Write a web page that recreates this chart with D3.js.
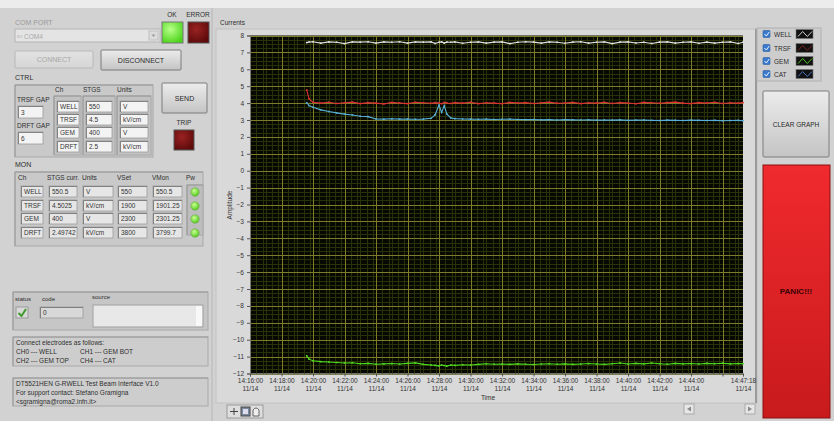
<!DOCTYPE html>
<html><head><meta charset="utf-8">
<script src="https://cdn.jsdelivr.net/npm/d3@7"></script>
<style>
html,body{margin:0;padding:0;background:#d2d2d2;overflow:hidden}
svg{display:block;font-family:"Liberation Sans",Arial,sans-serif}
</style></head><body><svg id="c" width="834" height="421"></svg>
<script>
// ---------------- data ----------------
const times = ["14:19:36","14:19:45","14:20:00","14:20:30","14:21:00","14:21:30","14:22:00","14:22:30","14:23:00","14:23:30",
 "14:24:00","14:24:30","14:25:00","14:25:30","14:26:00","14:26:30","14:27:00","14:27:30","14:27:45","14:28:00",
 "14:28:10","14:28:20","14:28:30","14:28:45","14:29:00","14:29:30","14:30:00","14:30:30","14:31:00","14:31:30",
 "14:32:00","14:32:30","14:33:00","14:33:30","14:34:00","14:34:30","14:35:00","14:35:30","14:36:00","14:36:30",
 "14:37:00","14:37:30","14:38:00","14:38:30","14:39:00","14:39:30","14:40:00","14:40:30","14:41:00","14:41:30",
 "14:42:00","14:42:30","14:43:00","14:43:30","14:44:00","14:44:30","14:45:00","14:45:30","14:46:00","14:46:30",
 "14:47:00","14:47:18"];
const wellValues = [7.58,7.62,7.63,7.55,7.62,7.60,7.52,7.62,7.61,7.63,
 7.55,7.62,7.60,7.63,7.55,7.62,7.61,7.62,7.53,7.60,
 7.62,7.55,7.61,7.60,7.62,7.54,7.60,7.62,7.55,7.61,
 7.62,7.52,7.60,7.63,7.61,7.55,7.62,7.60,7.54,7.61,
 7.63,7.55,7.60,7.62,7.52,7.61,7.62,7.56,7.60,7.53,
 7.61,7.62,7.55,7.60,7.62,7.54,7.61,7.55,7.60,7.62,
 7.53,7.60];
const trsfValues = [4.78,4.25,4.05,4.00,4.05,3.98,4.02,4.06,3.97,4.03,
 4.00,3.95,4.04,4.01,3.97,4.05,4.02,3.99,4.03,4.00,
 3.96,4.04,4.01,3.98,4.03,4.00,4.05,3.97,4.02,4.00,
 3.96,4.04,4.01,4.03,3.98,4.02,4.06,3.99,4.01,4.04,
 3.97,4.02,4.00,4.05,3.98,4.03,4.01,3.96,4.04,4.02,
 3.99,4.03,4.06,4.00,3.97,4.03,4.01,4.05,3.98,4.02,
 4.00,4.03];
const gemValues = [-10.95,-11.15,-11.25,-11.30,-11.32,-11.35,-11.38,-11.36,-11.42,-11.40,
 -11.45,-11.43,-11.41,-11.44,-11.40,-11.37,-11.46,-11.50,-11.52,-11.55,
 -11.50,-11.53,-11.56,-11.50,-11.52,-11.48,-11.50,-11.46,-11.42,-11.45,
 -11.44,-11.46,-11.43,-11.45,-11.47,-11.44,-11.42,-11.45,-11.43,-11.46,
 -11.44,-11.41,-11.44,-11.46,-11.42,-11.38,-11.44,-11.40,-11.43,-11.38,
 -11.42,-11.45,-11.40,-11.43,-11.41,-11.44,-11.40,-11.42,-11.39,-11.43,
 -11.41,-11.42];
const catValues = [4.02,3.85,3.75,3.60,3.50,3.42,3.35,3.30,3.22,3.20,
 3.06,3.05,3.07,3.05,3.06,3.04,3.05,3.10,3.30,3.88,
 3.45,3.85,3.35,3.12,3.08,3.06,3.05,3.04,3.05,3.03,
 3.04,3.05,3.03,3.02,3.03,3.01,3.02,3.00,3.02,3.01,
 3.00,3.01,2.99,3.00,2.99,3.01,2.98,2.99,3.00,2.98,
 2.97,2.99,2.98,2.97,2.99,2.98,2.97,2.98,2.96,2.97,
 2.98,2.96];
const seriesNames = ["WELL","TRSF","GEM","CAT"];
const seriesColors = ["#e2e2e2","#dc3030","#4fdc1e","#58b0d8"];
const yTicks = [8,7,6,5,4,3,2,1,0,-1,-2,-3,-4,-5,-6,-7,-8,-9,-10,-11,-12];
const xTickTimes = ["14:16:00","14:18:00","14:20:00","14:22:00","14:24:00","14:26:00","14:28:00","14:30:00",
 "14:32:00","14:34:00","14:36:00","14:38:00","14:40:00","14:42:00","14:44:00","14:46:00","14:47:18"];
const xTickLabels = ["14:16:00","14:18:00","14:20:00","14:22:00","14:24:00","14:26:00","14:28:00","14:30:00",
 "14:32:00","14:34:00","14:36:00","14:38:00","14:40:00","14:42:00","14:44:00","","14:47:18"];
const dateLabel = "11/14";
const ctrlCh = ["WELL","TRSF","GEM","DRFT"];
const ctrlStgs = ["550","4.5","400","2.5"];
const ctrlUnits = ["V","kV/cm","V","kV/cm"];
const monStgsCurr = ["550.5","4.5025","400","2.49742"];
const monVSet = ["550","1900","2300","3800"];
const monVMon = ["550.5","1901.25","2301.25","3799.7"];

// ---------------- drawing ----------------
const svg = d3.select("#c");
const defs = svg.append("defs");
function grad(id, c1, c2){
  const g = defs.append("linearGradient").attr("id",id).attr("x1",0).attr("y1",0).attr("x2",0).attr("y2",1);
  g.append("stop").attr("offset","0%").attr("stop-color",c1);
  g.append("stop").attr("offset","100%").attr("stop-color",c2);
}
grad("btn","#ececec","#c4c4c4");
grad("btnDis","#e2e2e2","#d6d6d6");
grad("panic","#f02a2e","#c81a1c");
const rg = defs.append("radialGradient").attr("id","okled").attr("cx","40%").attr("cy","35%").attr("r","70%");
rg.append("stop").attr("offset","0%").attr("stop-color","#b8ff8a");
rg.append("stop").attr("offset","100%").attr("stop-color","#4cd41a");
const rr = defs.append("radialGradient").attr("id","redled").attr("cx","40%").attr("cy","35%").attr("r","70%");
rr.append("stop").attr("offset","0%").attr("stop-color","#9a2222");
rr.append("stop").attr("offset","100%").attr("stop-color","#5c0a0a");
const rp = defs.append("radialGradient").attr("id","pwled").attr("cx","40%").attr("cy","35%").attr("r","70%");
rp.append("stop").attr("offset","0%").attr("stop-color","#c8ff90");
rp.append("stop").attr("offset","100%").attr("stop-color","#4cc81a");

// background
svg.append("rect").attr("width",834).attr("height",421).attr("fill","#d2d2d2");
svg.append("rect").attr("width",834).attr("height",8).attr("fill","#ececec");

function label(x,y,t,opts={}){
  return svg.append("text").attr("x",x).attr("y",y).text(t)
    .attr("font-size",opts.size||7).attr("fill",opts.fill||"#2e2e2e")
    .attr("text-anchor",opts.anchor||"start").attr("font-weight",opts.weight||"normal");
}
function field(x,y,w,h,t,opts={}){
  svg.append("rect").attr("x",x).attr("y",y).attr("width",w).attr("height",h)
    .attr("fill",opts.fill||"#f3f3f3").attr("stroke","#9c9c9c").attr("stroke-width",0.8);
  svg.append("path").attr("d",`M${x+0.5},${y+h} V${y+0.5} H${x+w}`).attr("fill","none").attr("stroke","#6e6e6e").attr("stroke-width",0.8);
  if(t!==undefined) label(x+3,y+h-3,t,{size:opts.size||6.5,fill:opts.color||"#333"});
}
function group(x,y,w,h,fill){
  svg.append("rect").attr("x",x).attr("y",y).attr("width",w).attr("height",h)
    .attr("fill",fill||"#c9c9c9").attr("stroke","#a8a8a8").attr("stroke-width",1);
  svg.append("path").attr("d",`M${x},${y+h} V${y} H${x+w}`).attr("fill","none").attr("stroke","#9a9a9a").attr("stroke-width",1);
}
function button(x,y,w,h,t,opts={}){
  svg.append("rect").attr("x",x).attr("y",y).attr("width",w).attr("height",h).attr("rx",1)
    .attr("fill",opts.fill||"url(#btn)").attr("stroke",opts.stroke||"#7c7c7c").attr("stroke-width",1);
  svg.append("text").attr("x",x+w/2).attr("y",y+h/2+2.5).attr("text-anchor","middle").text(t)
    .attr("font-size",opts.size||7).attr("fill",opts.color||"#2a2a2a").attr("font-weight",opts.weight||"normal");
}

// ---- left panel ----
label(15,25,"COM PORT",{fill:"#9a9a9a"});
svg.append("rect").attr("x",15).attr("y",29).attr("width",145).attr("height",13).attr("fill","#e4e4e4").attr("stroke","#b4b4b4");
label(17,38,"I/O",{size:4,fill:"#a0a0a0"});
label(24,39,"COM4",{size:6.5,fill:"#a8a8a8"});
svg.append("rect").attr("x",149).attr("y",31).attr("width",9).attr("height",9).attr("fill","#dcdcdc").attr("stroke","#c0c0c0");
svg.append("path").attr("d","M151.5,34.5 L155.5,34.5 L153.5,37 Z").attr("fill","#999");
label(172,17,"OK",{anchor:"middle",size:6.5});
label(198,17,"ERROR",{anchor:"middle",size:6.5});
svg.append("rect").attr("x",162).attr("y",22).attr("width",21).attr("height",21).attr("fill","url(#okled)").attr("stroke","#777");
svg.append("rect").attr("x",188).attr("y",22).attr("width",21).attr("height",21).attr("fill","url(#redled)").attr("stroke","#555");
button(15,51,78,17,"CONNECT",{fill:"url(#btnDis)",stroke:"#b8b8b8",color:"#a8a8a8"});
button(101,50,80,20,"DISCONNECT");
label(15,80,"CTRL");
group(15,85,138,72);
label(55,92,"Ch",{size:6.5}); label(83,92,"STGS",{size:6.5}); label(117,92,"Units",{size:6.5});
label(17,102,"TRSF GAP",{size:6.5});
field(18,106,25,12,"3");
label(17,128,"DRFT GAP",{size:6.5});
field(18,132,25,12,"6");
group(54,96,27,59,"#c2c2c2");
group(83,96,32,59,"#c2c2c2");
group(117,96,34,59,"#c2c2c2");
const ctrlRowY = [101,114,127,141];
ctrlCh.forEach((c,i)=>{
  field(57,ctrlRowY[i],22,11,c);
  field(86,ctrlRowY[i],26,11,ctrlStgs[i]);
  field(120,ctrlRowY[i],28,11,ctrlUnits[i]);
});
button(162,83,45,30,"SEND");
label(184,125,"TRIP",{anchor:"middle",size:6.5});
svg.append("rect").attr("x",174).attr("y",130).attr("width",20).attr("height",20).attr("fill","url(#redled)").attr("stroke","#555");

label(15,167,"MON");
group(15,172,188,74);
const monHeadX = [18,47,82,117,152,186];
["Ch","STGS curr.","Units","VSet","VMon","Pw"].forEach((h,i)=>label(monHeadX[i],180,h,{size:6.5}));
const monRowY = [186,200,213,227];
group(187,185,16,50,"#bdbdbd");
ctrlCh.forEach((c,i)=>{
  field(21,monRowY[i],22,11,c,{fill:"#e6e6e6"});
  field(49,monRowY[i],28,11,monStgsCurr[i],{fill:"#e6e6e6"});
  field(83,monRowY[i],30,11,ctrlUnits[i],{fill:"#e6e6e6"});
  field(118,monRowY[i],29,11,monVSet[i],{fill:"#e6e6e6"});
  field(153,monRowY[i],29,11,monVMon[i],{fill:"#e6e6e6"});
  svg.append("circle").attr("cx",195).attr("cy",monRowY[i]+6).attr("r",4.2).attr("fill","url(#pwled)").attr("stroke","#6a9a40").attr("stroke-width",0.5);
});

group(13,292,195,38,"#c6c6c6");
label(15,301,"status",{size:6});
label(42,301,"code",{size:6});
label(92,299,"source",{size:6});
svg.append("rect").attr("x",16).attr("y",307).attr("width",12).attr("height",11).attr("fill","#d8d8d8").attr("stroke","#999");
svg.append("path").attr("d","M18.5,313 L21.5,316 L26,309").attr("fill","none").attr("stroke","#3e9a2a").attr("stroke-width",2);
field(40,307,43,11,"0",{fill:"#d8d8d8"});
svg.append("rect").attr("x",93).attr("y",305).attr("width",110).attr("height",22).attr("fill","#e8e8e8").attr("stroke","#a0a0a0");
svg.append("rect").attr("x",196).attr("y",306).attr("width",6).attr("height",20).attr("fill","#f8f8f8");

group(13,337,195,29,"#cdcdcd");
label(16,345,"Connect electrodes as follows:",{size:6.5});
label(16,354,"CH0 --- WELL",{size:6.5}); label(80,354,"CH1 --- GEM BOT",{size:6.5});
label(16,363,"CH2 --- GEM TOP",{size:6.5}); label(80,363,"CH4 --- CAT",{size:6.5});

group(13,378,195,28,"#cdcdcd");
label(16,386,"DT5521HEN G-RWELL Test Beam Interface V1.0",{size:6.5});
label(16,395,"For support contact: Stefano Gramigna",{size:6.5});
label(16,404,"<sgramigna@roma2.infn.it>",{size:6.5});

// ---- graph frame ----
svg.append("rect").attr("x",211).attr("y",8).attr("width",2).attr("height",413).attr("fill","#c4c4c4");
label(220,25,"Currents",{size:6.5});
svg.append("rect").attr("x",216).attr("y",29).attr("width",541).attr("height",374).attr("fill","#d9d9d9").attr("stroke","#c2c2c2");
svg.append("rect").attr("x",755).attr("y",29).attr("width",2).attr("height",374).attr("fill","#9a9a9a");

const parse = d3.timeParse("%H:%M:%S");
const M = {l:250, r:743, t:35.5, b:373.5};
const x = d3.scaleTime().domain([parse("14:16:00"), parse("14:47:18")]).range([M.l, M.r]);
const y = d3.scaleLinear().domain([-12, 8]).range([M.b, M.t]);

svg.append("rect").attr("x",M.l).attr("y",M.t).attr("width",M.r-M.l).attr("height",M.b-M.t).attr("fill","#080803");

// minor grid
const minorX = d3.timeSecond.every(24).range(parse("14:16:00"), parse("14:47:19"));
const minorY = d3.range(-12, 8.001, 0.25);
const grid = svg.append("g").attr("shape-rendering","crispEdges");
grid.selectAll(".mx").data(minorX).join("line")
  .attr("x1",d=>Math.round(x(d))+0.5).attr("x2",d=>Math.round(x(d))+0.5).attr("y1",M.t).attr("y2",M.b)
  .attr("stroke","#283209").attr("stroke-width",1);
grid.selectAll(".my").data(minorY).join("line")
  .attr("y1",d=>Math.round(y(d))+0.5).attr("y2",d=>Math.round(y(d))+0.5).attr("x1",M.l).attr("x2",M.r)
  .attr("stroke","#283209").attr("stroke-width",1);
// major grid
const majorX = xTickTimes.slice(0,-1).map(parse);
grid.selectAll(".Mx").data(majorX).join("line")
  .attr("x1",d=>Math.round(x(d))+0.5).attr("x2",d=>Math.round(x(d))+0.5).attr("y1",M.t).attr("y2",M.b)
  .attr("stroke","#7e7e28").attr("stroke-width",1);
grid.selectAll(".My").data(yTicks).join("line")
  .attr("y1",d=>Math.round(y(d))+0.5).attr("y2",d=>Math.round(y(d))+0.5).attr("x1",M.l).attr("x2",M.r)
  .attr("stroke","#7e7e28").attr("stroke-width",1);

// series
const tParsed = times.map(parse);
const allSeries = [wellValues, trsfValues, gemValues, catValues];
const line = d3.line().x((d,i)=>x(tParsed[i])).y(d=>y(d));
allSeries.forEach((vals,k)=>{
  svg.append("path").datum(vals).attr("d",line).attr("fill","none")
    .attr("stroke",seriesColors[k]).attr("stroke-width",1.1);
  svg.append("g").selectAll("rect").data(vals).join("rect")
    .attr("x",(d,i)=>x(tParsed[i])-0.8).attr("y",d=>y(d)-0.8).attr("width",1.6).attr("height",1.6)
    .attr("fill",seriesColors[k]);
});

// axes
const yAxis = svg.append("g").attr("transform",`translate(${M.l},0)`)
  .call(d3.axisLeft(y).tickValues(yTicks).tickSize(3).tickFormat(d3.format("d")));
yAxis.select(".domain").attr("stroke","#7a7a7a");
yAxis.selectAll("line").attr("stroke","#555");
yAxis.selectAll("text").attr("font-size",6.5).attr("fill","#333").attr("font-family","Liberation Sans, Arial, sans-serif");

const xAxis = svg.append("g").attr("transform",`translate(0,${M.b})`)
  .call(d3.axisBottom(x).tickValues(xTickTimes.map(parse)).tickSize(3).tickFormat((d,i)=>xTickLabels[i]));
xAxis.select(".domain").attr("stroke","#7a7a7a");
xAxis.selectAll("line").attr("stroke","#555");
xAxis.selectAll("text").each(function(d,i){
  const t = d3.select(this); const lab = xTickLabels[i];
  t.text(null).attr("font-size",6.5).attr("fill","#333").attr("font-family","Liberation Sans, Arial, sans-serif").attr("y",5);
  if(lab){
    t.append("tspan").attr("x",0).attr("dy","0.71em").text(lab);
    t.append("tspan").attr("x",0).attr("dy","1.25em").text(dateLabel);
  }
});
label(488,400,"Time",{anchor:"middle",size:6.5});
svg.append("text").attr("transform","translate(232,205) rotate(-90)").attr("text-anchor","middle")
  .attr("font-size",6.5).attr("fill","#333").text("Amplitude");

// graph palette + scrollbar
svg.append("rect").attr("x",227).attr("y",405).attr("width",36).attr("height",13).attr("fill","#dedede").attr("stroke","#9a9a9a");
svg.append("path").attr("d","M230,411.5 H238 M234,408 V415").attr("stroke","#444").attr("stroke-width",1);
svg.append("rect").attr("x",241).attr("y",407).attr("width",9).attr("height",9).attr("fill","#7a8aa0").attr("stroke","#444");
svg.append("rect").attr("x",243).attr("y",409).attr("width",5).attr("height",5).attr("fill","#dde");
svg.append("path").attr("d","M253,416 V410 Q256,406 259,410 V416 Z").attr("fill","#eee").attr("stroke","#444").attr("stroke-width",0.8);
svg.append("rect").attr("x",684).attr("y",404).attr("width",10).attr("height",10).attr("fill","#e6e6e6").attr("stroke","#aaa");
svg.append("path").attr("d","M691,406.5 L687,409 L691,411.5 Z").attr("fill","#888");
svg.append("rect").attr("x",745).attr("y",404).attr("width",10).attr("height",10).attr("fill","#e6e6e6").attr("stroke","#aaa");
svg.append("path").attr("d","M748,406.5 L752,409 L748,411.5 Z").attr("fill","#888");

// ---- right panel ----
svg.append("rect").attr("x",757).attr("y",28).attr("width",64).attr("height",53).attr("fill","#cdcdcd").attr("stroke","#b0b0b0");
const legY = [34,48,61,74];
const swatchX = d3.scaleLinear().domain([0,3]).range([798,812]);
seriesNames.forEach((n,i)=>{
  svg.append("rect").attr("x",763).attr("y",legY[i]-3.5).attr("width",7).attr("height",7).attr("rx",1)
    .attr("fill","#3a7bd0").attr("stroke","#2a5a9a").attr("stroke-width",0.6);
  svg.append("path").attr("d",`M764.5,${legY[i]} l1.8,2 l3,-4`).attr("fill","none").attr("stroke","#fff").attr("stroke-width",0.9);
  label(774,legY[i]+2.5,n,{size:6.5});
  svg.append("rect").attr("x",796).attr("y",legY[i]-4.5).attr("width",17).attr("height",9).attr("fill","#111").attr("stroke","#777").attr("stroke-width",0.6);
  svg.append("path").attr("d",d3.line()([[swatchX(0),legY[i]+2.5],[swatchX(1),legY[i]-2.5],[swatchX(2),legY[i]+2.5],[swatchX(3),legY[i]-2.5]]))
    .attr("fill","none").attr("stroke",i===1?"#8a2020":(i===3?"#4a7ad0":seriesColors[i])).attr("stroke-width",0.9);
});
button(763,91,66,66,"CLEAR GRAPH",{size:6.5});
svg.append("rect").attr("x",763).attr("y",165).attr("width",67).attr("height",253).attr("fill","url(#panic)").attr("stroke","#8a1010");
svg.append("text").attr("x",796).attr("y",294).attr("text-anchor","middle").attr("font-size",8).attr("font-weight","bold")
  .attr("fill","#3a0404").text("PANIC!!!");
</script></body></html>
